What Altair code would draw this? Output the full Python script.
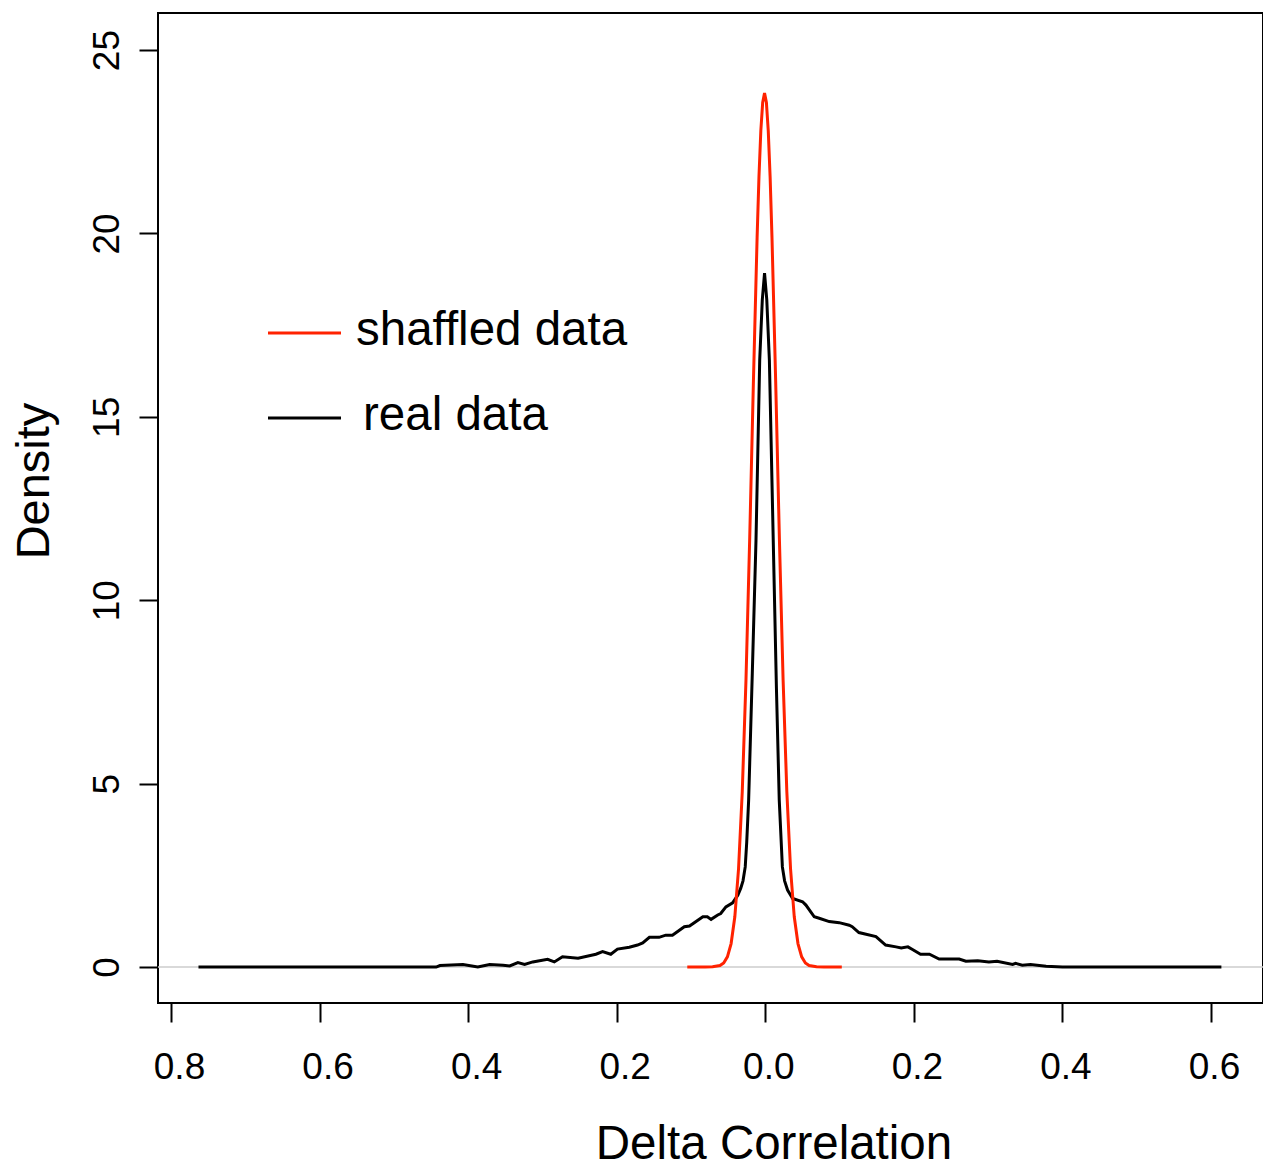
import altair as alt
import pandas as pd

# ---- data ----
real_x = [-0.763, -0.60, -0.443, -0.438, -0.407, -0.387, -0.371, -0.353, -0.344, -0.333,
          -0.324, -0.313, -0.293, -0.284, -0.273, -0.252, -0.228, -0.219, -0.208, -0.199,
          -0.183, -0.172, -0.165, -0.156, -0.143, -0.134, -0.125, -0.109, -0.102, -0.084,
          -0.078, -0.073, -0.064, -0.060, -0.053, -0.044, -0.037, -0.033, -0.030, -0.027,
          -0.025, -0.0224, -0.0175, -0.0125, -0.0075, -0.004, -0.001, 0.002, 0.0055, 0.0107,
          0.015, 0.0188, 0.023, 0.026, 0.030, 0.0368, 0.0502, 0.0547, 0.0659, 0.0726,
          0.0861, 0.0995, 0.113, 0.117, 0.126, 0.149, 0.162, 0.176, 0.183, 0.192,
          0.197, 0.209, 0.221, 0.234, 0.261, 0.270, 0.286, 0.301, 0.312, 0.333,
          0.337, 0.346, 0.357, 0.378, 0.40, 0.614]
real_y = [0.0, 0.0, 0.0, 0.04, 0.07, 0.0, 0.07, 0.05, 0.03, 0.12,
          0.07, 0.14, 0.21, 0.14, 0.28, 0.24, 0.35, 0.42, 0.35, 0.49,
          0.54, 0.60, 0.66, 0.81, 0.81, 0.87, 0.87, 1.10, 1.12, 1.37,
          1.37, 1.30, 1.42, 1.46, 1.64, 1.75, 1.96, 2.15, 2.35, 2.73,
          3.40, 4.55, 8.0, 11.64, 16.55, 18.2, 18.92, 18.2, 16.55, 11.64,
          7.6, 4.55, 2.73, 2.35, 2.10, 1.87, 1.78, 1.69, 1.37, 1.33,
          1.24, 1.21, 1.14, 1.10, 0.94, 0.83, 0.60, 0.55, 0.52, 0.55,
          0.49, 0.35, 0.35, 0.22, 0.22, 0.16, 0.17, 0.14, 0.16, 0.07,
          0.10, 0.05, 0.07, 0.02, 0.0, 0.0]

shuf_x = [-0.105, -0.081, -0.071, -0.061, -0.056, -0.051, -0.046, -0.041, -0.036, -0.031,
          -0.026, -0.021, -0.016, -0.011, -0.0085, -0.006, -0.0035, -0.001, 0.0015, 0.004,
          0.0065, 0.009, 0.014, 0.019, 0.024, 0.029, 0.034, 0.039, 0.044, 0.049,
          0.054, 0.059, 0.069, 0.079, 0.103]
shuf_y = [0.0, 0.002, 0.01, 0.04, 0.11, 0.28, 0.64, 1.37, 2.68, 4.78,
          7.82, 11.67, 15.95, 19.9, 21.55, 22.8, 23.57, 23.83, 23.57, 22.8,
          21.55, 19.9, 15.95, 11.67, 7.82, 4.78, 2.68, 1.37, 0.64, 0.28,
          0.11, 0.04, 0.01, 0.002, 0.0]

x_ticks = [-0.8, -0.6, -0.4, -0.2, 0.0, 0.2, 0.4, 0.6]
y_ticks = [0, 5, 10, 15, 20, 25]
legend_labels = ["shaffled data", "real data"]
x_title = "Delta Correlation"
y_title = "Density"
series_colors = ["#ff2200", "#000000"]

# ---- layout ----
W, H = 1105, 990
FONT = "Liberation Sans"

xs = alt.Scale(domain=[-0.8175, 0.670], nice=False, zero=False)
ys = alt.Scale(domain=[-0.98, 26.01], nice=False, zero=False)

xaxis = alt.Axis(values=x_ticks, labelExpr="format(abs(datum.value), '.1f')",
                 title=None, domain=False, grid=False, ticks=True, tickSize=19,
                 tickWidth=2, tickColor="black", labelFontSize=37, labelFont=FONT,
                 labelColor="black", labelPadding=27, labelBaseline="top",
                 labelOffset={"condition": {"test": "datum.value < 0", "value": 8}, "value": 3},
                 labelFlush=False, labelOverlap=False)
yaxis = alt.Axis(values=y_ticks, format="d", title=None, domain=False, grid=False,
                 ticks=True, tickSize=19, tickWidth=2, tickColor="black",
                 labelFontSize=37, labelFont=FONT, labelColor="black",
                 labelAngle=270, labelAlign="center", labelBaseline="bottom",
                 labelPadding=13, labelFlush=False, labelOverlap=False)

real = pd.DataFrame({"x": real_x, "y": real_y})
shuf = pd.DataFrame({"x": shuf_x, "y": shuf_y})

zero_line = alt.Chart(pd.DataFrame({"v": [0]})).mark_rule(
    color="#cccccc", strokeWidth=1.5
).encode(
    y=alt.Y("v:Q", scale=ys, axis=yaxis),
    x=alt.value(0), x2=alt.value(W),
)

real_line = alt.Chart(real).mark_line(color=series_colors[1], strokeWidth=3).encode(
    x=alt.X("x:Q", scale=xs, axis=xaxis),
    y=alt.Y("y:Q", scale=ys, axis=yaxis),
    order="x:Q",
)
shuf_line = alt.Chart(shuf).mark_line(color=series_colors[0], strokeWidth=3).encode(
    x=alt.X("x:Q", scale=xs, axis=xaxis),
    y=alt.Y("y:Q", scale=ys, axis=yaxis),
    order="x:Q",
)

def txt(label, **kw):
    return alt.Chart(pd.DataFrame({"t": [label]})).mark_text(
        font=FONT, color="black", **kw
    ).encode(text="t:N")

leg_line1 = alt.Chart(pd.DataFrame({"t": [legend_labels[0]]})).mark_rule(
    color=series_colors[0], strokeWidth=3
).encode(x=alt.value(110), x2=alt.value(183), y=alt.value(320))
leg_line2 = alt.Chart(pd.DataFrame({"t": [legend_labels[1]]})).mark_rule(
    color=series_colors[1], strokeWidth=3
).encode(x=alt.value(110), x2=alt.value(183), y=alt.value(405))

leg_t1 = txt(legend_labels[0], fontSize=47.5, align="left", baseline="alphabetic").encode(
    x=alt.value(198), y=alt.value(332))
leg_t2 = txt(legend_labels[1], fontSize=47.5, align="left", baseline="alphabetic").encode(
    x=alt.value(205), y=alt.value(417))

xt = txt(x_title, fontSize=47.5, align="center", baseline="alphabetic").encode(
    x=alt.value(616), y=alt.value(1146))
yt = txt(y_title, fontSize=47, align="center", baseline="alphabetic", angle=270).encode(
    x=alt.value(-109), y=alt.value(468))

chart = alt.layer(
    zero_line, real_line, shuf_line, leg_line1, leg_line2, leg_t1, leg_t2, xt, yt
).properties(
    width=W, height=H,
    autosize=alt.AutoSizeParams(type="none"),
    padding={"left": 150, "top": 5, "right": 0, "bottom": 159},
    background="white",
).configure_view(
    stroke="black", strokeWidth=2
)

chart.save("out.html", embed_options={"renderer": "svg", "actions": False})
